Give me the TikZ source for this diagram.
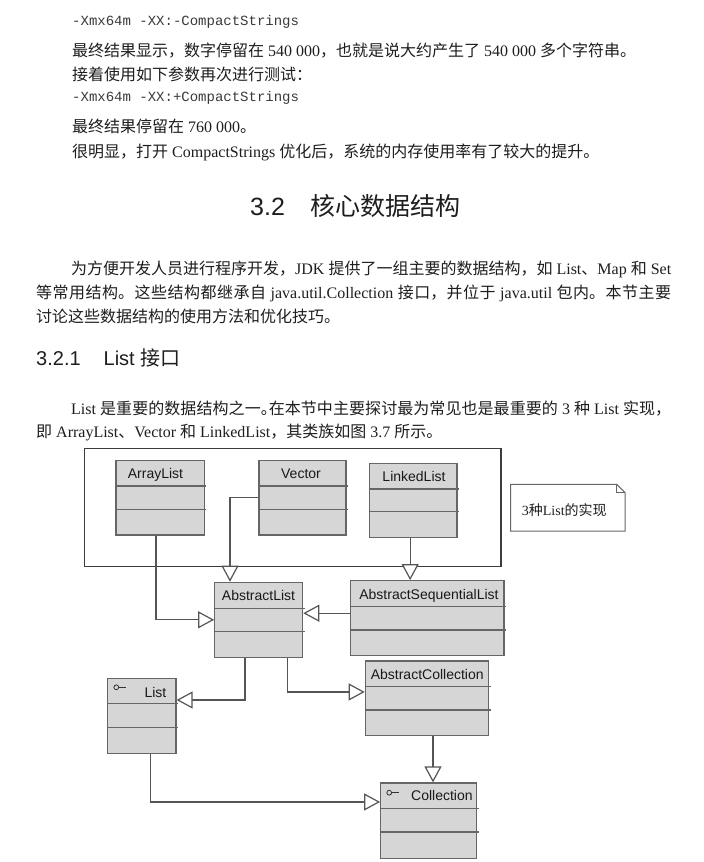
\documentclass[tikz,border=0pt]{standalone}
\usepackage{fontspec}
\setmainfont{Liberation Serif}
\setsansfont{Liberation Sans}
\setmonofont{Liberation Mono}
\newfontfamily\cjk{Noto Sans CJK SC}
\usetikzlibrary{arrows.meta,fit}
\definecolor{boxfill}{HTML}{D6D6D6}
\definecolor{boxline}{HTML}{666666}
\definecolor{pkgline}{HTML}{3C3C3C}
\definecolor{connline}{HTML}{555555}
\definecolor{txt}{HTML}{1E1E1E}
\definecolor{monotxt}{HTML}{3A3A3A}
\newcommand\zh[1]{{\cjk\XeTeXlinebreaklocale "zh"\XeTeXlinebreakskip=0pt plus 2pt minus 0.8pt\relax #1}}
\newcommand\jline[2]{\parbox[b]{#1}{\XeTeXlinebreakpenalty=10000\relax\parindent=0pt\parfillskip=0pt\relax
  \tolerance=10000\pretolerance=10000\emergencystretch=0pt\relax #2}}
\newcommand\umlclass[7]{%
  \node[cls, fit={(#2,#3) (#4,#5)}] (#1) {};
  \draw[divline] (#1.west |- 0,#6) -- ([xshift=1.2pt]#1.east |- 0,#6);
  \draw[divline] (#1.west |- 0,#7) -- ([xshift=1.2pt]#1.east |- 0,#7);
}
\begin{document}
\begin{tikzpicture}[x=1pt,y=-1pt,
  body/.style={font=\fontsize{16pt}{20pt}\selectfont, text=txt, inner sep=0pt, anchor=base west},
  mono/.style={font=\ttfamily\fontsize{14pt}{16pt}\selectfont, text=monotxt, inner sep=0pt, anchor=base west},
  cls/.style={draw=boxline, fill=boxfill, line width=1.2pt, inner sep=0pt},
  divline/.style={draw=boxline, line width=1.2pt},
  pkg/.style={draw=pkgline, line width=1.4pt, inner sep=0pt},
  hdr/.style={font=\sffamily\fontsize{14pt}{16pt}\selectfont, text=black!90, inner sep=0pt},
  conn/.style={draw=connline, line width=1.2pt, -{Triangle[length=16pt,width=17pt,fill=white]}},
  iconline/.style={draw=black!80, line width=0.8pt},
  notebox/.style={draw=black!60, line width=1pt, fill=white},
]
\fill[white] (0,0) rectangle (704,862);
\useasboundingbox (0,0) rectangle (704,862);

% ---- page text ----
\node[mono] (t1) at (72,25) {-Xmx64m -XX:-CompactStrings};
\node[body] (t2) at (72,56.7) {\zh{最终结果显示，数字停留在} 540 000\zh{，也就是说大约产生了} 540 000 \zh{多个字符串。}};
\node[body] (t3) at (72,80) {\zh{接着使用如下参数再次进行测试：}};
\node[mono] (t4) at (72,101.8) {-Xmx64m -XX:+CompactStrings};
\node[body] (t5) at (72,132.7) {\zh{最终结果停留在} 760 000\zh{。}};
\node[body] (t6) at (72,157.7) {\zh{很明显，打开} CompactStrings \zh{优化后，系统的内存使用率有了较大的提升。}};

\node[font=\sffamily\fontsize{25pt}{30pt}\selectfont, text=txt, inner sep=0pt, anchor=base west] (h1) at (250,215.6) {3.2\hspace{26pt}\cjk 核心数据结构};

\node[body] (p1a) at (71,274.5) {\jline{600pt}{\zh{为方便开发人员进行程序开发，}JDK \zh{提供了一组主要的数据结构，如} List\zh{、}Map \zh{和} Set}};
\node[body] (p1b) at (36,298.5) {\jline{635pt}{\zh{等常用结构。这些结构都继承自} java.util.Collection \zh{接口，并位于} java.util \zh{包内。本节主要}}};
\node[body] (p1c) at (36,322.3) {\zh{讨论这些数据结构的使用方法和优化技巧。}};

\node[font=\sffamily\fontsize{20pt}{24pt}\selectfont, text=txt, inner sep=0pt, anchor=base west] (h2) at (36,365.5) {3.2.1\hspace{23pt}List \cjk 接口};

\node[body] (p2a) at (71,414.4) {\jline{600pt}{List \zh{是重要的数据结构之一}\makebox[8pt][l]{\cjk 。}\zh{在本节中主要探讨最为常见也是最重要的} 3 \zh{种} List \zh{实现，}}};
\node[body] (p2b) at (36,437.8) {\zh{即} ArrayList\zh{、}Vector \zh{和} LinkedList\zh{，其类族如图} 3.7 \zh{所示。}};

% ---- diagram ----
\node[pkg, fit={(84.7,448.3) (501,566.7)}] (pkg) {};

\umlclass{arraylist}{116}{460.7}{204.3}{535}{486}{509.3}
\umlclass{vector}{259}{460.7}{346}{535}{486}{509.3}
\umlclass{linkedlist}{369.3}{463.3}{457}{537.7}{489}{511.7}
\umlclass{abstractlist}{214.7}{582.3}{302.7}{657.3}{608.3}{631.7}
\umlclass{asl}{350.7}{580.7}{504}{655.7}{606.7}{630}
\umlclass{abscoll}{365.3}{661}{488.7}{735.3}{686.7}{710}
\umlclass{list}{107.3}{678.3}{176}{753.3}{703.3}{727.3}
\umlclass{collection}{380.7}{783}{476.7}{858.7}{808.7}{832}

% note
\draw[notebox] (510.7,484.3) -- (616.7,484.3) -- (625,492.7) -- (625,531) -- (510.7,531) -- cycle;
\draw[draw=black!60, line width=0.8pt] (616.7,484.3) -- (616.7,492.7) -- (625,492.7);
\node[font=\fontsize{14pt}{16pt}\selectfont, text=txt, inner sep=0pt, anchor=base west] (note) at (521.7,515) {3\zh{种}List\zh{的实现}};

% connectors
\draw[conn] ([xshift=-4.1pt]arraylist.south) |- (abstractlist.west);
\draw[conn] (vector.west) -| ([xshift=-28.7pt]abstractlist.north);
\draw[conn] ([xshift=-3pt]linkedlist.south) coordinate (ll1) -- (ll1 |- asl.north);
\draw[conn] ([yshift=5pt]asl.west) coordinate (as1) -- (as1 -| abstractlist.east);
\draw[conn] ([xshift=-13.7pt]abstractlist.south) |- ([yshift=15.8pt]list.east);
\draw[conn] ([xshift=28.6pt]abstractlist.south) |- ([yshift=6.2pt]abscoll.west);
\draw[conn] ([xshift=6pt]abscoll.south) coordinate (ac1) -- (ac1 |- collection.north);
\draw[conn] ([xshift=8.6pt]list.south) |- ([yshift=18.9pt]collection.west);

% header labels
\node[hdr, anchor=base west] (arraylist-t) at (127.7,478.3) {ArrayList};
\node[hdr, anchor=base] (vector-t) at (301,478.3) {Vector};
\node[hdr, anchor=base] (linkedlist-t) at (414,481) {LinkedList};
\node[hdr, anchor=base] (abstractlist-t) at (258.5,600.7) {AbstractList};
\node[hdr, anchor=base] (asl-t) at (429,599) {AbstractSequentialList};
\node[hdr, anchor=base] (abscoll-t) at (427.2,679) {AbstractCollection};
\node[hdr, anchor=base west] (list-t) at (144.3,697.2) {List};
\node[hdr, anchor=base west] (collection-t) at (411,800.7) {Collection};

% interface icons
\draw[iconline] (116.3,687.3) circle (2.4pt);
\draw[iconline] (118.7,687.3) -- (126,687.3);
\draw[iconline] (389.2,792.7) circle (2.4pt);
\draw[iconline] (391.6,792.7) -- (399,792.7);
\end{tikzpicture}
\end{document}
